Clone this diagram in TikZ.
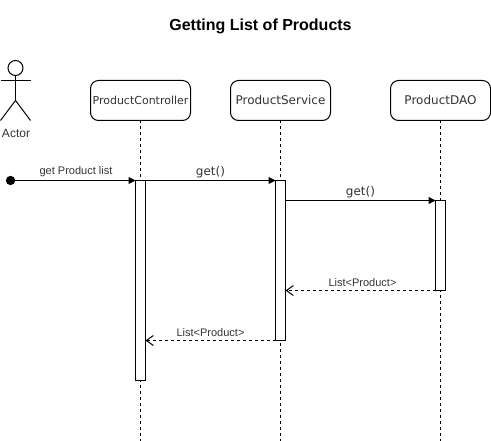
\documentclass[tikz,border=0pt]{standalone}
\usepackage{fontspec}
\setmainfont{Liberation Sans}
\newfontfamily\dejavu{DejaVu Sans}
\usetikzlibrary{arrows.meta, positioning, backgrounds}
\definecolor{labelgray}{HTML}{333333}
\tikzset{
  classbox/.style={
    rectangle, rounded corners=6pt, draw, fill=white, outer sep=0pt, inner sep=0pt,
    minimum width=75pt, minimum height=30pt, align=center,
    font=\dejavu\fontsize{9pt}{11pt}\selectfont, text=labelgray
  },
  actbar/.style={
    rectangle, draw, fill=white, outer sep=0pt, inner sep=0pt,
    minimum width=7.5pt, minimum height=#1
  },
  lifeline/.style={dash pattern=on 2.25pt off 2.25pt},
  callarrow/.style={-{Triangle[length=5.25pt,width=5.25pt]}},
  replyarrow/.style={-{Straight Barb[length=5.25pt,width=7.5pt]},
    dash pattern=on 2.25pt off 2.25pt},
  smalllabel/.style={font=\fontsize{8.25pt}{10pt}\selectfont, text=labelgray,
    inner sep=0pt, above=2.5pt},
  getlabel/.style={font=\dejavu\fontsize{9pt}{11pt}\selectfont, text=labelgray,
    inner sep=0pt, above=1.8pt}
}
\begin{document}
\begin{tikzpicture}[x=0.75pt, y=-0.75pt, line width=0.75pt]
    \useasboundingbox (-0.5,-0.5) rectangle (490.5,440.5);

    % Title
    \node[font=\bfseries\fontsize{12pt}{14pt}\selectfont] (title) at (260,25.5)
      {Getting List of Products};

    % Actor
    \node[circle, draw, minimum size=11.25pt, inner sep=0pt, outer sep=0pt] (head) at (15,67.5) {};
    \coordinate (neck) at (15,100);
    \coordinate (armL) at (0,80);
    \coordinate (armR) at (30,80);
    \coordinate (legL) at (0,120);
    \coordinate (legR) at (30,120);
    \draw (head.south) -- (neck);
    \draw (armL) -- (armR);
    \draw (legL) -- (neck) -- (legR);
    \node[font=\fontsize{9pt}{11pt}\selectfont, text=labelgray] (actor) at (15.5,133) {Actor};

    % Lifeline heads
    \node[classbox, font=\dejavu\fontsize{8.25pt}{10pt}\selectfont] (ctrl) at (140,100) {ProductController};
    \node[classbox, right=30pt of ctrl] (service) {ProductService};
    \node[classbox, right=45pt of service] (dao) {ProductDAO};

    % Activations
    \node[actbar=150pt, below=45pt of ctrl] (barctrl) {};
    \node[actbar=120pt, below=45pt of service] (barservice) {};
    \node[actbar=67.5pt, below=60pt of dao] (bardao) {};

    % Lifelines
    \coordinate (endctrl) at (140,440);
    \coordinate (endservice) at (280,440);
    \coordinate (enddao) at (440,440);
    \begin{scope}[on background layer]
      \draw[lifeline] (ctrl) -- (endctrl);
      \draw[lifeline] (service) -- (endservice);
      \draw[lifeline] (dao) -- (enddao);
    \end{scope}

    % Messages
    \node[circle, fill, minimum size=7pt, inner sep=0pt, outer sep=0pt] (start) at (10,180) {};
    \draw[callarrow] (start) -- node[smalllabel, xshift=0.5pt] {get Product list} (barctrl.north west);
    \draw[callarrow] (barctrl.north east) -- node[getlabel] {get()} (barservice.north west);
    \draw[callarrow] (barservice.east |- bardao.north) -- node[getlabel] {get()} (bardao.north west);
    \draw[replyarrow] (bardao.south west) -- node[smalllabel, xshift=1.5pt] {List<Product>} (barservice.east |- bardao.south);
    \draw[replyarrow] (barservice.south west) -- node[smalllabel] {List<Product>} (barctrl.east |- barservice.south);
\end{tikzpicture}
\end{document}
